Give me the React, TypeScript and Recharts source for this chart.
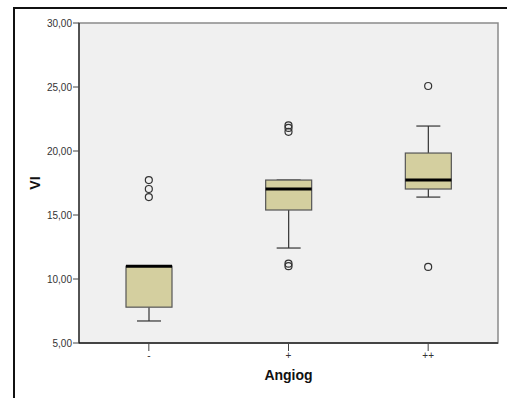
import React from 'react';
import { ComposedChart, Bar, Line, XAxis, YAxis, ReferenceArea } from 'recharts';

const categories = ['-', '+', '++'];
const whiskerLow = [6.72, 12.42, 16.4];
const q1 = [7.8, 15.39, 17.03];
const median = [11.0, 17.03, 17.73];
const q3 = [11.0, 17.73, 19.84];
const whiskerHigh = [11.0, 17.73, 21.95];
const outliers: number[][] = [
  [17.73, 17.03, 16.4],
  [22.0, 21.8, 21.5, 11.2, 11.0],
  [25.08, 10.94],
];
const yTicks = [5, 10, 15, 20, 25, 30];

const MAX_OUT = 5;
const data = categories.map((cat, i) => {
  const row: any = {
    cat,
    range: [whiskerLow[i], whiskerHigh[i]],
    wLow: whiskerLow[i],
    wHigh: whiskerHigh[i],
    q1: q1[i],
    median: median[i],
    q3: q3[i],
  };
  for (let k = 0; k < MAX_OUT; k++) {
    row['o' + k] = outliers[i][k] ?? null;
  }
  return row;
});

const FONT = '"Liberation Sans", Arial, sans-serif';

const BoxShape = (props: any) => {
  const { x, y, width, height, payload } = props;
  const lo = payload.wLow;
  const hi = payload.wHigh;
  const pix = (v: number) => y + ((hi - v) / (hi - lo)) * height;
  const cx = x + width / 2;
  const capHalf = 12;
  const yQ1 = pix(payload.q1);
  const yQ3 = pix(payload.q3);
  const yMed = pix(payload.median);
  const yLo = pix(lo);
  const yHi = pix(hi);
  return (
    <g>
      <line x1={cx} x2={cx} y1={yHi} y2={yQ3} stroke="#333" strokeWidth={1.2} />
      <line x1={cx} x2={cx} y1={yQ1} y2={yLo} stroke="#333" strokeWidth={1.2} />
      <line x1={cx - capHalf} x2={cx + capHalf} y1={yHi} y2={yHi} stroke="#333" strokeWidth={1.2} />
      <line x1={cx - capHalf} x2={cx + capHalf} y1={yLo} y2={yLo} stroke="#333" strokeWidth={1.2} />
      <rect x={x} y={yQ3} width={width} height={yQ1 - yQ3} fill="#d4cf9f" stroke="#555" strokeWidth={1.2} />
      <line x1={x} x2={x + width} y1={yMed} y2={yMed} stroke="#000" strokeWidth={3} />
    </g>
  );
};

const outlierDot = (p: any) => {
  const key = `${p.dataKey}-${p.index}`;
  if (p.value == null || p.cy == null || isNaN(p.cy)) return <g key={key} />;
  return <circle key={key} cx={p.cx} cy={p.cy} r={3.5} fill="none" stroke="#333" strokeWidth={1.2} />;
};

const YLabel = (props: any) => {
  const vb = props.viewBox || {};
  const cx = (vb.x ?? 0) + 22;
  const cy = (vb.y ?? 0) + (vb.height ?? 0) / 2;
  return (
    <text x={cx} y={cy} transform={`rotate(-90 ${cx} ${cy})`} textAnchor="middle" dominantBaseline="central"
      fontFamily={FONT} fontWeight="bold" fontSize={14} fill="#111">VI</text>
  );
};

export default function App() {
  return (
    <div style={{ position: 'absolute', left: 0, top: 0, width: 507, height: 398, background: '#fff', overflow: 'hidden' }}>
      <div style={{ position: 'absolute', left: 13, top: 7, width: 520, height: 420, border: '2px solid #111', boxSizing: 'border-box' }} />
      <div style={{ position: 'absolute', left: 0, top: 0 }}>
        <ComposedChart width={507} height={398} data={data} margin={{ top: 23, right: 9, left: 13, bottom: 25 }}>
          <ReferenceArea y1={5} y2={30} fill="#f0f0f0" fillOpacity={1} stroke="#8a8a8a" strokeWidth={1.5} ifOverflow="extendDomain" />
          <XAxis
            dataKey="cat"
            height={30}
            tickSize={8}
            tickMargin={1}
            axisLine={{ stroke: '#444', strokeWidth: 2 }}
            tickLine={{ stroke: '#444' }}
            tick={{ fontFamily: FONT, fontSize: 10, fill: '#333' }}
            label={{ value: 'Angiog', position: 'bottom', offset: -3, fontFamily: FONT, fontWeight: 'bold', fontSize: 14, fill: '#111' }}
          />
          <YAxis
            type="number"
            domain={[5, 30]}
            ticks={yTicks}
            width={66}
            tickSize={6}
            tickMargin={1}
            interval={0}
            axisLine={{ stroke: '#000' }}
            tickLine={{ stroke: '#444' }}
            tick={{ fontFamily: FONT, fontSize: 10, fill: '#333' }}
            tickFormatter={(v: number) => v.toFixed(2).replace('.', ',')}
            label={<YLabel />}
          />
          <Bar dataKey="range" barSize={46} shape={<BoxShape />} isAnimationActive={false} legendType="none" />
          {Array.from({ length: MAX_OUT }, (_, k) => (
            <Line
              key={'o' + k}
              dataKey={'o' + k}
              stroke="transparent"
              strokeWidth={0}
              dot={outlierDot}
              activeDot={false}
              isAnimationActive={false}
              legendType="none"
            />
          ))}
        </ComposedChart>
      </div>
    </div>
  );
}
